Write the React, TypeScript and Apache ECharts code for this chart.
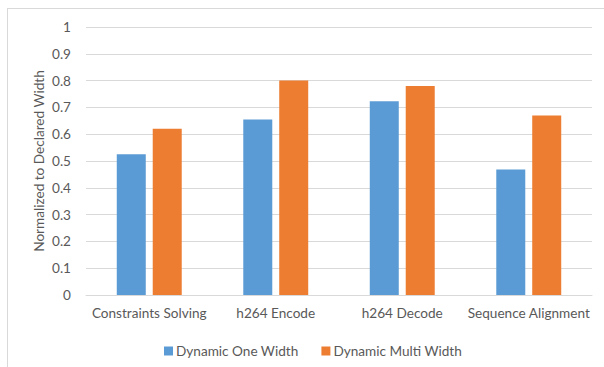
import React, { useEffect, useRef } from "react";
import * as echarts from "echarts";

const categories = ["Constraints Solving", "h264 Encode", "h264 Decode", "Sequence Alignment"];
const oneWidth = [0.525, 0.655, 0.723, 0.468];
const multiWidth = [0.62, 0.8, 0.78, 0.67];
const seriesNames = ["Dynamic One Width", "Dynamic Multi Width"];
const yTicks = { min: 0, max: 1, interval: 0.1 };

const FONT = "Lato";
const TXT = "#595959";
const FS = 13.6;

export default function App() {
  const ref = useRef<HTMLDivElement>(null);
  useEffect(() => {
    if (!ref.current) return;
    const chart = echarts.init(ref.current, null, { renderer: "svg" });
    chart.setOption({
      animation: false,
      backgroundColor: "#ffffff",
      textStyle: { fontFamily: FONT },
      grid: { left: 86, right: 12, top: 27, bottom: 72 },
      graphic: [
        { type: "line", shape: { x1: 7, y1: 8.5, x2: 604, y2: 8.5 }, style: { stroke: "#d9d9d9", lineWidth: 1 } },
        { type: "line", shape: { x1: 7.5, y1: 8, x2: 7.5, y2: 367 }, style: { stroke: "#d9d9d9", lineWidth: 1 } },
      ],
      legend: {
        left: 159,
        top: 339,
        itemWidth: 9,
        itemHeight: 9,
        itemGap: 23,
        icon: "rect",
        textStyle: { fontFamily: FONT, fontSize: FS, color: TXT, padding: [0, 0, 0, -2] },
        data: seriesNames,
      },
      xAxis: {
        type: "category",
        data: categories,
        axisLine: { lineStyle: { color: "#d9d9d9", width: 1 } },
        axisTick: { show: false },
        axisLabel: { fontFamily: FONT, fontSize: FS, color: TXT, margin: 11, interval: 0 },
      },
      yAxis: {
        type: "value",
        min: yTicks.min,
        max: yTicks.max,
        interval: yTicks.interval,
        name: "Normalized to Declared Width",
        nameLocation: "middle",
        nameGap: 40,
        nameMoveOverlap: false,
        nameTextStyle: { fontFamily: FONT, fontSize: FS, color: TXT },
        axisLine: { show: false },
        axisTick: { show: false },
        splitLine: { lineStyle: { color: "#d9d9d9", width: 1 } },
        axisLabel: { fontFamily: FONT, fontSize: FS, color: TXT, margin: 15 },
      },
      series: [
        {
          name: seriesNames[0],
          type: "bar",
          data: oneWidth,
          barWidth: 29,
          barGap: "24%",
          itemStyle: { color: "#5B9BD5" },
        },
        {
          name: seriesNames[1],
          type: "bar",
          data: multiWidth,
          barWidth: 29,
          itemStyle: { color: "#ED7D31" },
        },
      ],
    });
    return () => chart.dispose();
  }, []);
  return (
    <div
      ref={ref}
      style={{ position: "fixed", left: 0, top: 0, width: 604, height: 367 }}
    />
  );
}
